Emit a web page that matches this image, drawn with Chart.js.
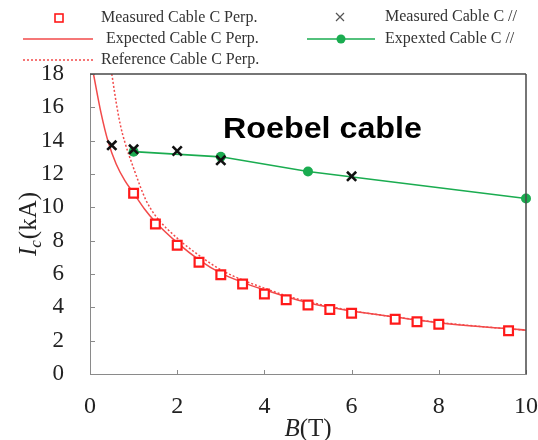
<!DOCTYPE html>
<html>
<head>
<meta charset="utf-8">
<script src="https://cdn.jsdelivr.net/npm/chart.js@4/dist/chart.umd.min.js"></script>
<style>
  html, body { margin: 0; padding: 0; background: #fff; }
  #wrap { width: 538px; height: 440px; }
</style>
</head>
<body>
<div id="wrap"><canvas id="c" width="538" height="440"></canvas></div>
<script>
// Critical current Ic (kA) of Roebel cable C versus field B (T)
const bMeasPerp  = [1, 1.5, 2, 2.5, 3, 3.5, 4, 4.5, 5, 5.5, 6, 7, 7.5, 8, 9.6];
const icMeasPerp = [10.85, 9.0, 7.72, 6.7, 5.96, 5.4, 4.8, 4.45, 4.14, 3.87, 3.64, 3.28, 3.13, 2.98, 2.6];

const bMeasPar  = [0.5, 1, 2, 3, 6];
const icMeasPar = [13.72, 13.48, 13.38, 12.82, 11.86];

const bExpPar  = [1, 3, 5, 10];
const icExpPar = [13.34, 13.03, 12.15, 10.53];

const bExpPerp  = [0.08, 0.25, 0.42, 0.6, 0.8, 1.0, 1.25, 1.5, 2, 2.5, 3, 3.5, 4, 4.5, 5, 5.5, 6, 7, 8, 9, 10];
const icExpPerp = [18, 15.7, 13.9, 12.6, 11.6, 10.85, 9.9, 9.12, 7.88, 6.85, 6.05, 5.5, 5.05, 4.64, 4.28, 4.0, 3.78, 3.42, 3.08, 2.83, 2.63];

const bRefPerp  = [0.5, 0.6, 0.7, 0.8, 1.0, 1.28, 1.5, 2, 2.5, 3, 3.5, 4, 4.5, 5, 6, 7, 8, 9, 10];
const icRefPerp = [18, 16.3, 14.9, 13.9, 12.35, 10.45, 9.5, 8.15, 7.12, 6.25, 5.64, 5.15, 4.7, 4.34, 3.8, 3.42, 3.1, 2.84, 2.63];

const xTicks = [0, 2, 4, 6, 8, 10];
const yTicks = [0, 2, 4, 6, 8, 10, 12, 14, 16, 18];

const legendLabels = [
  'Measured Cable C Perp.',
  'Measured Cable C //',
  'Expected Cable C Perp.',
  'Expexted Cable C //',
  'Reference Cable C Perp.'
];
const annotationText = 'Roebel cable';

const pts = (xs, ys) => xs.map((x, i) => ({ x: x, y: ys[i] }));

const RED = '#ff1a1a';
const RED_LINE = '#f24a4a';
const GREEN = '#1aac50';
const SERIF = '"Liberation Serif", "Times New Roman", serif';

// Inner tick marks plus top/right frame lines
const framePlugin = {
  id: 'frame',
  afterDraw(chart) {
    const { ctx, chartArea: a, scales } = chart;
    ctx.save();
    ctx.strokeStyle = '#8a8a8a';
    ctx.lineWidth = 1;
    ctx.beginPath();
    scales.x.ticks.forEach(t => {
      const px = Math.round(scales.x.getPixelForValue(t.value)) + 0.5;
      ctx.moveTo(px, a.bottom);
      ctx.lineTo(px, a.bottom - 4);
    });
    scales.y.ticks.forEach(t => {
      const py = Math.round(scales.y.getPixelForValue(t.value)) + 0.5;
      ctx.moveTo(a.left, py);
      ctx.lineTo(a.left + 5, py);
    });
    ctx.stroke();
    ctx.strokeStyle = '#4a4a4a';
    ctx.lineWidth = 1.5;
    ctx.beginPath();
    ctx.moveTo(a.left, a.top);
    ctx.lineTo(a.right, a.top);
    ctx.moveTo(a.right, a.top);
    ctx.lineTo(a.right, a.bottom);
    ctx.stroke();
    ctx.restore();
  }
};

// Axis titles with italic symbols
const titlesPlugin = {
  id: 'titles',
  afterDraw(chart) {
    const { ctx, chartArea: a } = chart;
    ctx.save();
    ctx.fillStyle = '#222';
    ctx.textBaseline = 'alphabetic';
    // x title: B(T)
    const fItal = 'italic 25px ' + SERIF;
    const fReg = '25px ' + SERIF;
    ctx.font = fItal; const wB = ctx.measureText('B').width;
    ctx.font = fReg; const wT = ctx.measureText('(T)').width;
    const cx = (a.left + a.right) / 2;
    let x0 = cx - (wB + wT) / 2;
    const yBase = 436;
    ctx.font = fItal; ctx.fillText('B', x0, yBase);
    ctx.font = fReg; ctx.fillText('(T)', x0 + wB, yBase);

    // y title: Ic(kA), rotated
    ctx.translate(36, (a.top + a.bottom) / 2);
    ctx.rotate(-Math.PI / 2);
    const fI = 'italic 25px ' + SERIF;
    const fSub = 'italic 17px ' + SERIF;
    ctx.font = fI; const wI = ctx.measureText('I').width;
    ctx.font = fSub; const wc = ctx.measureText('c').width;
    ctx.font = fReg; const wk = ctx.measureText('(kA)').width;
    let s = -(wI + wc + 1 + wk) / 2;
    ctx.font = fI; ctx.fillText('I', s, 0);
    ctx.font = fSub; ctx.fillText('c', s + wI, 5);
    ctx.font = fReg; ctx.fillText('(kA)', s + wI + wc + 1, 0);
    ctx.restore();
  }
};

// In-plot label
const notePlugin = {
  id: 'note',
  afterDraw(chart) {
    const { ctx, scales } = chart;
    const px = scales.x.getPixelForValue(3.05);
    const py = scales.y.getPixelForValue(14.16);
    ctx.save();
    ctx.font = 'bold 29px "Liberation Sans", Arial, sans-serif';
    ctx.fillStyle = '#000';
    ctx.textBaseline = 'alphabetic';
    const w = ctx.measureText(annotationText).width;
    ctx.translate(px, py);
    ctx.scale(199 / w, 1);
    ctx.fillText(annotationText, 0, 0);
    ctx.restore();
  }
};

// Two-column legend above the plot
const legendPlugin = {
  id: 'twoColLegend',
  afterDraw(chart) {
    const { ctx } = chart;
    const ds = chart.data.datasets;
    ctx.save();
    ctx.font = '16px ' + SERIF;
    ctx.fillStyle = '#333';
    ctx.textBaseline = 'middle';
    const items = [
      { d: 1, mx: 59, y: 18, lx0: 23, lx1: 93, tx: 101, kind: 'square' },
      { d: 0, mx: 340, y: 17, lx0: 0, lx1: 0, tx: 385, kind: 'cross' },
      { d: 3, mx: 0, y: 39, lx0: 23, lx1: 93, tx: 106, kind: 'line' },
      { d: 2, mx: 341, y: 39, lx0: 307, lx1: 375, tx: 385, kind: 'lineDot' },
      { d: 4, mx: 0, y: 60, lx0: 23, lx1: 93, tx: 101, kind: 'dotted' }
    ];
    items.forEach((it, i) => {
      const set = ds[it.d];
      ctx.save();
      if (it.kind === 'square') {
        ctx.strokeStyle = set.borderColor; ctx.lineWidth = 1.6;
        ctx.strokeRect(it.mx - 4, it.y - 4, 8, 8);
      } else if (it.kind === 'cross') {
        ctx.strokeStyle = '#555'; ctx.lineWidth = 1.2;
        ctx.beginPath();
        ctx.moveTo(it.mx - 4, it.y - 4); ctx.lineTo(it.mx + 4, it.y + 4);
        ctx.moveTo(it.mx + 4, it.y - 4); ctx.lineTo(it.mx - 4, it.y + 4);
        ctx.stroke();
      } else {
        ctx.strokeStyle = set.borderColor; ctx.lineWidth = 1.5;
        if (it.kind === 'dotted') ctx.setLineDash([2, 2]);
        ctx.beginPath();
        ctx.moveTo(it.lx0, it.y); ctx.lineTo(it.lx1, it.y);
        ctx.stroke();
        if (it.kind === 'lineDot') {
          ctx.fillStyle = set.pointBackgroundColor;
          ctx.beginPath(); ctx.arc(it.mx, it.y, 4.5, 0, Math.PI * 2); ctx.fill();
        }
      }
      ctx.restore();
      ctx.fillText(legendLabels[i], it.tx, it.y);
    });
    ctx.restore();
  }
};

new Chart(document.getElementById('c'), {
  type: 'scatter',
  data: {
    datasets: [
      {
        label: legendLabels[1],
        data: pts(bMeasPar, icMeasPar),
        showLine: false,
        pointStyle: 'crossRot',
        pointRadius: 6.5,
        pointBorderWidth: 2.6,
        borderColor: '#111',
        pointBorderColor: '#111',
        clip: false
      },
      {
        label: legendLabels[0],
        data: pts(bMeasPerp, icMeasPerp),
        showLine: false,
        pointStyle: 'rect',
        pointRadius: 6.2,
        pointBorderWidth: 2.2,
        borderColor: RED,
        pointBorderColor: RED,
        pointBackgroundColor: '#fff',
        clip: false
      },
      {
        label: legendLabels[3],
        data: pts(bExpPar, icExpPar),
        showLine: true,
        borderColor: GREEN,
        borderWidth: 1.6,
        pointStyle: 'circle',
        pointRadius: 5,
        pointBorderWidth: 0,
        pointBackgroundColor: GREEN,
        tension: 0,
        clip: false
      },
      {
        label: legendLabels[2],
        data: pts(bExpPerp, icExpPerp),
        showLine: true,
        borderColor: RED_LINE,
        borderWidth: 1.5,
        pointRadius: 0,
        cubicInterpolationMode: 'monotone'
      },
      {
        label: legendLabels[4],
        data: pts(bRefPerp, icRefPerp),
        showLine: true,
        borderColor: RED_LINE,
        borderWidth: 1.5,
        borderDash: [2, 2],
        pointRadius: 0,
        cubicInterpolationMode: 'monotone'
      }
    ]
  },
  options: {
    responsive: false,
    animation: false,
    layout: { padding: { top: 74, right: 12, left: 0, bottom: 0 } },
    plugins: {
      legend: { display: false },
      tooltip: { enabled: false }
    },
    scales: {
      x: {
        type: 'linear',
        min: 0,
        max: 10,
        afterBuildTicks: s => { s.ticks = xTicks.map(v => ({ value: v })); },
        afterFit: s => { s.height = 66; s.paddingLeft = 0; s.paddingRight = 0; },
        grid: { drawOnChartArea: false, drawTicks: false },
        border: { color: '#8a8a8a', width: 1 },
        ticks: {
          padding: 18,
          color: '#222',
          font: { family: SERIF, size: 24 }
        }
      },
      y: {
        type: 'linear',
        min: 0,
        max: 18,
        afterBuildTicks: s => { s.ticks = yTicks.map(v => ({ value: v })); },
        afterFit: s => { s.width = 90; s.paddingTop = 0; s.paddingBottom = 0; },
        grid: { drawOnChartArea: false, drawTicks: false },
        border: { color: '#8a8a8a', width: 1 },
        ticks: {
          padding: 26,
          color: '#222',
          font: { family: SERIF, size: 23 }
        }
      }
    }
  },
  plugins: [framePlugin, titlesPlugin, notePlugin, legendPlugin]
});
</script>
</body>
</html>
